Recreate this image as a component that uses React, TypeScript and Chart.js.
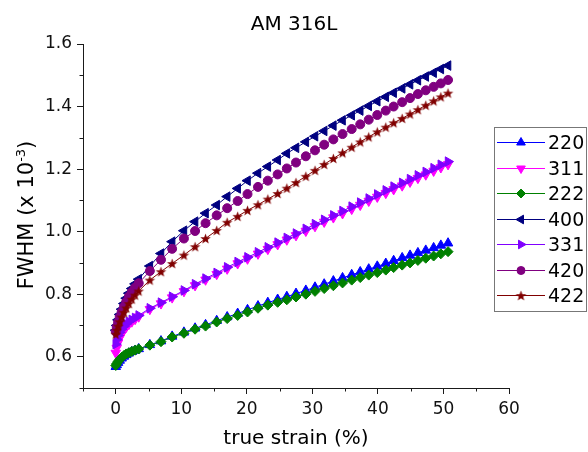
import React, { useEffect, useRef } from 'react';
import { Chart, registerables } from 'chart.js';

Chart.register(...registerables);

// ---------- data ----------
const chartTitle = 'AM 316L';
const xAxisTitle = 'true strain (%)';
const yAxisTitleMain = 'FWHM (x 10';
const yAxisTitleSup = '-3';
const yAxisTitleTail = ')';

const strain = [0, 0.15, 0.35, 0.6, 0.9, 1.25, 1.6, 2.0, 2.45, 2.95, 3.5, 5.2, 6.9, 8.6, 10.4, 12.1, 13.7, 15.4, 17.0, 18.6, 20.1, 21.7, 23.2, 24.7, 26.1, 27.5, 29.0, 30.4, 31.8, 33.2, 34.6, 36.0, 37.3, 38.6, 39.9, 41.2, 42.4, 43.7, 44.9, 46.1, 47.3, 48.5, 49.6, 50.7];

const fwhm220 = [0.568, 0.574, 0.581, 0.588, 0.595, 0.601, 0.606, 0.611, 0.616, 0.620, 0.625, 0.638, 0.650, 0.665, 0.678, 0.691, 0.702, 0.715, 0.727, 0.738, 0.750, 0.762, 0.773, 0.783, 0.792, 0.802, 0.812, 0.822, 0.832, 0.842, 0.852, 0.862, 0.871, 0.880, 0.889, 0.898, 0.907, 0.916, 0.924, 0.932, 0.940, 0.948, 0.956, 0.963];
const fwhm311 = [0.612, 0.628, 0.645, 0.660, 0.673, 0.685, 0.695, 0.704, 0.712, 0.720, 0.728, 0.752, 0.770, 0.789, 0.809, 0.828, 0.846, 0.864, 0.881, 0.898, 0.913, 0.929, 0.944, 0.959, 0.974, 0.988, 1.002, 1.017, 1.031, 1.045, 1.058, 1.072, 1.085, 1.098, 1.111, 1.123, 1.135, 1.147, 1.159, 1.171, 1.182, 1.194, 1.205, 1.215];
const fwhm222 = [0.572, 0.578, 0.585, 0.592, 0.598, 0.604, 0.609, 0.613, 0.617, 0.621, 0.625, 0.637, 0.648, 0.663, 0.675, 0.688, 0.698, 0.711, 0.722, 0.732, 0.743, 0.755, 0.765, 0.774, 0.782, 0.791, 0.800, 0.809, 0.818, 0.827, 0.836, 0.845, 0.853, 0.861, 0.869, 0.877, 0.885, 0.893, 0.900, 0.908, 0.915, 0.922, 0.929, 0.936];
const fwhm400 = [0.685, 0.700, 0.718, 0.735, 0.752, 0.770, 0.787, 0.803, 0.818, 0.833, 0.848, 0.890, 0.930, 0.968, 1.003, 1.032, 1.059, 1.085, 1.112, 1.138, 1.163, 1.187, 1.208, 1.229, 1.250, 1.268, 1.287, 1.305, 1.322, 1.339, 1.356, 1.372, 1.387, 1.402, 1.417, 1.431, 1.444, 1.458, 1.471, 1.484, 1.496, 1.508, 1.520, 1.531];
const fwhm331 = [0.640, 0.655, 0.668, 0.678, 0.688, 0.697, 0.705, 0.712, 0.718, 0.724, 0.732, 0.755, 0.773, 0.792, 0.812, 0.832, 0.850, 0.868, 0.886, 0.903, 0.918, 0.934, 0.950, 0.965, 0.980, 0.994, 1.009, 1.024, 1.038, 1.052, 1.066, 1.080, 1.093, 1.106, 1.119, 1.132, 1.144, 1.156, 1.168, 1.180, 1.191, 1.203, 1.214, 1.224];
const fwhm420 = [0.680, 0.695, 0.710, 0.727, 0.743, 0.760, 0.776, 0.792, 0.807, 0.821, 0.835, 0.874, 0.910, 0.945, 0.978, 1.002, 1.027, 1.052, 1.075, 1.098, 1.120, 1.143, 1.163, 1.183, 1.202, 1.221, 1.241, 1.260, 1.278, 1.295, 1.312, 1.328, 1.343, 1.358, 1.373, 1.387, 1.400, 1.414, 1.427, 1.440, 1.452, 1.463, 1.474, 1.485];
const fwhm422 = [0.672, 0.685, 0.698, 0.712, 0.727, 0.742, 0.756, 0.770, 0.784, 0.797, 0.810, 0.845, 0.872, 0.898, 0.925, 0.952, 0.978, 1.004, 1.030, 1.049, 1.068, 1.086, 1.104, 1.122, 1.139, 1.157, 1.177, 1.196, 1.215, 1.234, 1.252, 1.270, 1.287, 1.303, 1.319, 1.334, 1.348, 1.362, 1.376, 1.390, 1.404, 1.418, 1.431, 1.443];

const seriesLabels = ['220', '311', '222', '400', '331', '420', '422'];
const seriesValues = [fwhm220, fwhm311, fwhm222, fwhm400, fwhm331, fwhm420, fwhm422];
const seriesColors = ['#0000FF', '#FF00FF', '#008000', '#000080', '#8000FF', '#800080', '#800000'];
const seriesMarkers = ['triangle', 'triangle', 'rectRot', 'triangle', 'triangle', 'circle', 'star'];
const seriesRotations = [0, 180, 0, 270, 90, 0, 0];
const seriesRadii = [5.5, 5.5, 5, 5.5, 5.5, 4.5, 5.5];

const xTickValues = [0, 10, 20, 30, 40, 50, 60];
const yTickValues = [0.6, 0.8, 1.0, 1.2, 1.4, 1.6];
const xMinorValues = [-5, 5, 15, 25, 35, 45, 55];
const yMinorValues = [0.5, 0.7, 0.9, 1.1, 1.3, 1.5];
const xRange = [-5, 60];
const yRange = [0.5, 1.6];

// ---------- styling ----------
const FONT = '"DejaVu Sans", "Liberation Sans", Arial, sans-serif';
const AXIS_COLOR = '#1a1a1a';

function starPath(ctx: CanvasRenderingContext2D, cx: number, cy: number, R: number, r: number) {
  ctx.beginPath();
  for (let i = 0; i < 10; i++) {
    const a = -Math.PI / 2 + (i * Math.PI) / 5;
    const rad = i % 2 === 0 ? R : r;
    const px = cx + Math.cos(a) * rad;
    const py = cy + Math.sin(a) * rad;
    if (i === 0) ctx.moveTo(px, py);
    else ctx.lineTo(px, py);
  }
  ctx.closePath();
}

function makeStarImage(color: string, R: number) {
  const size = Math.ceil(R * 2 + 2);
  const c = document.createElement('canvas');
  c.width = size;
  c.height = size;
  const g = c.getContext('2d')!;
  g.fillStyle = color;
  starPath(g, size / 2, size / 2 + 0.5, R, R * 0.42);
  g.fill();
  return c;
}

function drawMarker(ctx: CanvasRenderingContext2D, kind: any, rot: number, x: number, y: number, r: number, color: string) {
  ctx.save();
  ctx.fillStyle = color;
  ctx.strokeStyle = color;
  ctx.lineWidth = 1;
  if (typeof kind !== 'string') {
    ctx.drawImage(kind, x - kind.width / 2, y - kind.height / 2);
    ctx.restore();
    return;
  }
  ctx.beginPath();
  if (kind === 'triangle') {
    let a = (rot * Math.PI) / 180;
    for (let i = 0; i < 3; i++) {
      const px = x + Math.sin(a) * r;
      const py = y - Math.cos(a) * r;
      if (i === 0) ctx.moveTo(px, py);
      else ctx.lineTo(px, py);
      a += (2 * Math.PI) / 3;
    }
    ctx.closePath();
  } else if (kind === 'rectRot') {
    ctx.moveTo(x, y - r);
    ctx.lineTo(x + r, y);
    ctx.lineTo(x, y + r);
    ctx.lineTo(x - r, y);
    ctx.closePath();
  } else {
    ctx.arc(x, y, r, 0, Math.PI * 2);
  }
  ctx.fill();
  ctx.stroke();
  ctx.restore();
}

export default function App() {
  const canvasRef = useRef<HTMLCanvasElement | null>(null);

  useEffect(() => {
    const canvas = canvasRef.current;
    if (!canvas) return;

    const pointStyles: any[] = seriesMarkers.map((m, i) =>
      m === 'star' ? makeStarImage(seriesColors[i], seriesRadii[i]) : m
    );

    const datasets = seriesLabels.map((label, i) => ({
      label,
      data: strain.map((x, j) => ({ x, y: seriesValues[i][j] })),
      borderColor: seriesColors[i],
      backgroundColor: seriesColors[i],
      borderWidth: 1,
      pointStyle: pointStyles[i],
      pointRotation: seriesRotations[i],
      pointRadius: seriesRadii[i],
      pointBorderWidth: 1,
      pointBorderColor: seriesColors[i],
      pointBackgroundColor: seriesColors[i],
      tension: 0,
      fill: false,
      order: seriesLabels.length - i,
    }));

    const decor = {
      id: 'decor',
      afterDraw(chart: any) {
        const ctx: CanvasRenderingContext2D = chart.ctx;
        const xs = chart.scales.x;
        const ys = chart.scales.y;
        ctx.save();
        // minor ticks
        ctx.strokeStyle = AXIS_COLOR;
        ctx.lineWidth = 1;
        xMinorValues.forEach((v) => {
          const px = Math.round(xs.getPixelForValue(v)) + 0.5;
          ctx.beginPath();
          ctx.moveTo(px, ys.bottom);
          ctx.lineTo(px, ys.bottom + 3.5);
          ctx.stroke();
        });
        yMinorValues.forEach((v) => {
          const py = Math.round(ys.getPixelForValue(v)) + 0.5;
          ctx.beginPath();
          ctx.moveTo(xs.left, py);
          ctx.lineTo(xs.left - 3.5, py);
          ctx.stroke();
        });

        // title
        ctx.fillStyle = '#000';
        ctx.textAlign = 'center';
        ctx.textBaseline = 'alphabetic';
        ctx.font = `20px ${FONT}`;
        ctx.fillText(chartTitle, 294, 30);

        // x axis title
        ctx.font = `20px ${FONT}`;
        ctx.fillText(xAxisTitle, (xs.left + xs.right) / 2, 444);

        // y axis title with superscript
        ctx.save();
        ctx.translate(33, (ys.top + ys.bottom) / 2 - 1);
        ctx.rotate(-Math.PI / 2);
        ctx.textAlign = 'left';
        ctx.font = `21px ${FONT}`;
        const w1 = ctx.measureText(yAxisTitleMain).width;
        const w3 = ctx.measureText(yAxisTitleTail).width;
        ctx.font = `13px ${FONT}`;
        const w2 = ctx.measureText(yAxisTitleSup).width;
        const total = w1 + w2 + w3;
        let sx = -total / 2;
        ctx.font = `21px ${FONT}`;
        ctx.fillText(yAxisTitleMain, sx, 0);
        sx += w1;
        ctx.font = `13px ${FONT}`;
        ctx.fillText(yAxisTitleSup, sx, -8);
        sx += w2;
        ctx.font = `21px ${FONT}`;
        ctx.fillText(yAxisTitleTail, sx, 0);
        ctx.restore();

        // legend
        const lx = 494.5, ly = 127.5, lw = 92, lh = 184;
        ctx.strokeStyle = '#777';
        ctx.lineWidth = 1;
        ctx.strokeRect(lx, ly, lw, lh);
        ctx.font = `19px ${FONT}`;
        ctx.textAlign = 'left';
        ctx.textBaseline = 'alphabetic';
        chart.data.datasets.forEach((ds: any, i: number) => {
          const cy = 142 + 25.5 * i;
          ctx.strokeStyle = ds.borderColor;
          ctx.lineWidth = 1;
          ctx.beginPath();
          ctx.moveTo(497, Math.round(cy) + 0.5);
          ctx.lineTo(545, Math.round(cy) + 0.5);
          ctx.stroke();
          drawMarker(ctx, pointStyles[i], seriesRotations[i], 521, Math.round(cy) + 0.5, seriesRadii[i] - 0.5, seriesColors[i]);
          ctx.fillStyle = '#000';
          ctx.fillText(ds.label, 548, cy + 7);
        });
        ctx.restore();
      },
    };

    const chart = new Chart(canvas, {
      type: 'line',
      data: { datasets },
      options: {
        animation: false,
        responsive: false,
        maintainAspectRatio: false,
        devicePixelRatio: 1,
        layout: { padding: { left: 0, right: 79, top: 44, bottom: 0 } },
        plugins: {
          legend: { display: false },
          tooltip: { enabled: false },
          title: { display: false },
        },
        scales: {
          x: {
            type: 'linear',
            min: xRange[0],
            max: xRange[1],
            afterBuildTicks: (s: any) => {
              s.ticks = xTickValues.map((v) => ({ value: v }));
            },
            afterFit: (s: any) => {
              s.height = 64;
            },
            ticks: {
              font: { family: FONT, size: 17 },
              color: '#111',
              padding: 5,
              maxRotation: 0,
              callback: (v: any) => String(v),
            },
            grid: {
              display: true,
              drawOnChartArea: false,
              drawTicks: true,
              tickLength: 6,
              color: AXIS_COLOR,
              lineWidth: 1,
            },
            border: { display: true, color: AXIS_COLOR, width: 1 },
          },
          y: {
            type: 'linear',
            min: yRange[0],
            max: yRange[1],
            afterBuildTicks: (s: any) => {
              s.ticks = yTickValues.map((v) => ({ value: v }));
            },
            afterFit: (s: any) => {
              s.width = 83;
            },
            ticks: {
              font: { family: FONT, size: 17 },
              color: '#111',
              padding: 5,
              callback: (v: any) => Number(v).toFixed(1),
            },
            grid: {
              display: true,
              drawOnChartArea: false,
              drawTicks: true,
              tickLength: 6,
              color: AXIS_COLOR,
              lineWidth: 1,
            },
            border: { display: true, color: AXIS_COLOR, width: 1 },
          },
        },
      },
      plugins: [decor],
    } as any);

    return () => {
      chart.destroy();
    };
  }, []);

  return (
    <div style={{ position: 'absolute', left: 0, top: 0, width: 588, height: 452, background: '#fff' }}>
      <canvas ref={canvasRef} width={588} height={452} style={{ display: 'block', width: 588, height: 452 }} />
    </div>
  );
}
